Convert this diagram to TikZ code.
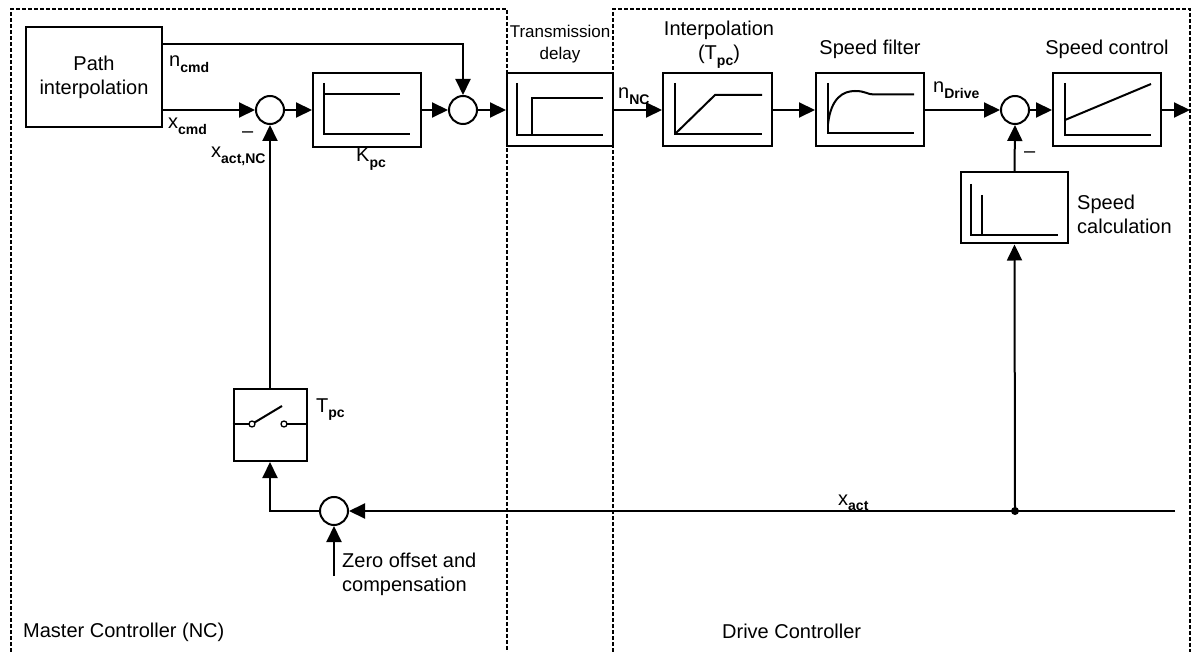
\documentclass[tikz,border=0pt]{standalone}
\usepackage{fontspec}
\setmainfont{Liberation Sans}
\usetikzlibrary{arrows.meta}
\newcommand{\sbs}[1]{\raisebox{-5.5pt}{\fontsize{14}{14}\selectfont\bfseries #1}}
\begin{document}
\begin{tikzpicture}[x=1pt,y=-1pt,
  every node/.style={font=\fontsize{20}{24}\selectfont, inner sep=0pt},
  blk/.style={draw, line width=2pt, rectangle, minimum height=73pt},
  sum/.style={draw, line width=2pt, circle, minimum size=28pt},
  sig/.style={line width=2pt, -{Triangle[length=16pt,width=15pt]}},
  ln/.style={line width=2pt},
  gr/.style={line width=2pt},
  dsh/.style={line width=1.2pt, dash pattern=on 4pt off 2pt},
  lbl/.style={anchor=base west},
  clbl/.style={anchor=base, align=center}]
\useasboundingbox (0,0) rectangle (1192,652);
% dashed regions
\draw[dsh] (11,652) -- (11,9) -- (507,9) -- (507,652);
\draw[dsh] (613,652) -- (613,9) -- (1190,9) -- (1190,652);
% blocks
\node[blk, minimum width=136pt, minimum height=100pt] (path) at (94,77) {};
\node[clbl] (pathl) at (94,95) {Path\\interpolation};
\node[blk, minimum width=108pt, minimum height=74pt] (kpc) at (367,110) {};
\node[blk, minimum width=106pt] (delay) at (560,110) {};
\node[blk, minimum width=109pt] (interp) at (717.5,110) {};
\node[blk, minimum width=108pt] (sfilt) at (870,110) {};
\node[blk, minimum width=108pt] (sctrl) at (1107,110) {};
\node[blk, minimum width=107pt, minimum height=71pt] (scalc) at (1014.5,208) {};
\node[blk, minimum width=73pt, minimum height=72pt] (sw) at (270,425) {};
% summing points
\node[sum] (c1) at (270,110) {};
\node[sum] (c2) at (463,110) {};
\node[sum] (c3) at (1015,110) {};
\node[sum] (c4) at (334,511) {};
% inner graphs
\draw[gr] (324,83) -- (324,134) -- (410,134);
\draw[gr] (324,94) -- (400,94);
\draw[gr] (517,83) -- (517,135) -- (603,135);
\draw[gr] (532,135) -- (532,98) -- (603,98);
\draw[gr] (675,83) -- (675,134) -- (762,134);
\draw[gr] (675,134) -- (715,95) -- (762,95);
\draw[gr] (828,83) -- (828,133) -- (914,133);
\draw[gr] (828,124) .. controls (831,98) and (843,91) .. (855,91) .. controls (866,91) and (867,94.5) .. (874,94.5) -- (914,94.5);
\draw[gr] (1065,83) -- (1065,135) -- (1151,135);
\draw[gr] (1065,120) -- (1151,84);
\draw[gr] (971,184) -- (971,235) -- (1058,235);
\draw[gr] (982,195) -- (982,235);
% switch
\draw[ln] (sw.west |- 0,424) -- (249,424);
\draw[line width=1.3pt, fill=white] (252,424) circle (3pt);
\draw[line width=1.3pt, fill=white] (284,424) circle (3pt);
\draw[ln] (287,424) -- (sw.east |- 0,424);
\draw[ln] (254.5,422.5) -- (282,406);
% coordinates
\coordinate (out) at (1190,110);
\coordinate (xin) at (1175,511);
\coordinate (j) at (1015,511);
\coordinate (zo) at (334,576);
% connectors
\draw[sig] (path.east |- 0,44) -| (c2.north);
\draw[sig] (path.east |- 0,110) -- (c1.west);
\draw[sig] (c1.east) -- (kpc.west);
\draw[sig] (kpc.east) -- (c2.west);
\draw[sig] (c2.east) -- (delay.west);
\draw[sig] (delay.east) -- (interp.west);
\draw[sig] (interp.east) -- (sfilt.west);
\draw[sig] (sfilt.east) -- (c3.west);
\draw[sig] (c3.east) -- (sctrl.west);
\draw[sig] (sctrl.east) -- (out);
\draw[sig] (scalc.north) -- (c3.south);
\draw[ln] (xin) -- (j);
\draw[sig] (j) -- (c4.east);
\draw[sig] (j) -- (scalc.south);
\fill (j) circle (4pt);
\draw[sig] (c4.west) -| (sw.south);
\draw[sig] (sw.north) -- (c1.south);
\draw[sig] (zo) -- (c4.south);
% labels
\node[lbl] (lncmd) at (169,67) {n\sbs{cmd}};
\node[lbl] (lxcmd) at (168,129) {x\sbs{cmd}};
\node[lbl] (lm1) at (242,138) {–};
\node[lbl] (lxactnc) at (211,158) {x\sbs{act,NC}};
\node[lbl] (lkpc) at (356,162) {K\sbs{pc}};
\node[clbl, font=\fontsize{17}{22}\selectfont] (ldelay) at (560,60) {Transmission\\delay};
\node[clbl] (linterp) at (719,60) {Interpolation\\(T\sbs{pc})};
\node[lbl] (lnnc) at (618,99) {n\sbs{NC}};
\node[clbl] (lsfilt) at (870,55) {Speed filter};
\node[clbl] (lsctrl) at (1107,55) {Speed control};
\node[lbl] (lndrive) at (933,93) {n\sbs{Drive}};
\node[lbl] (lm2) at (1024,158) {–};
\node[anchor=base west, align=left] (lscalc) at (1077,234) {Speed\\calculation};
\node[lbl] (ltpc) at (316,412) {T\sbs{pc}};
\node[lbl] (lxact) at (838,505) {x\sbs{act}};
\node[anchor=base west, align=left] (lzo) at (342,591) {Zero offset and\\compensation};
\node[lbl] (lmc) at (23,637) {Master Controller (NC)};
\node[lbl] (ldc) at (722,638) {Drive Controller};
\end{tikzpicture}
\end{document}
